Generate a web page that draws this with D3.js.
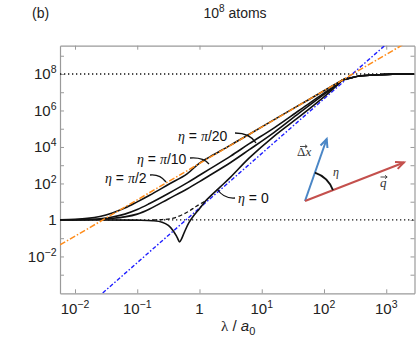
<!DOCTYPE html>
<html><head><meta charset="utf-8">
<script src="https://cdn.jsdelivr.net/npm/d3@7"></script>
<style>body{margin:0;background:#fff}svg{display:block}</style>
</head><body><svg id="c" width="420" height="344"></svg>
<script>
// ---- data ----
const lambdaGrid = [0.00575, 0.01, 0.0158, 0.0251, 0.0398, 0.0631, 0.1, 0.158, 0.316, 0.631, 1, 1.469, 3.162, 6.31, 15.85, 39.8, 100, 158.5, 199.5, 257, 371.5, 794, 1259, 2818];
const etaPiOver2 = [1.028, 1.089, 1.219, 1.549, 2.399, 4.467, 9.772, 22.39, 87.1, 338.8, 1318, 2884, 1.259e4, 5.012e4, 3.162e5, 1.95e6, 1.202e7, 3.02e7, 4.677e7, 5.888e7, 7.762e7, 9.12e7, 9.772e7, 1e8];
const etaPiOver10 = [1.009, 1.028, 1.069, 1.169, 1.445, 2.089, 3.715, 7.943, 28.18, 107.2, 281.8, 631, 3162, 1.514e4, 1.122e5, 1e6, 8.913e6, 2.512e7, 4.677e7, 5.888e7, 7.762e7, 9.12e7, 9.772e7, 1e8];
const etaPiOver20 = [1.005, 1.014, 1.035, 1.096, 1.23, 1.479, 2.089, 3.981, 14.13, 50.12, 125.9, 281.8, 1413, 7079, 6.31e4, 7.079e5, 7.586e6, 2.399e7, 4.677e7, 5.888e7, 7.762e7, 9.12e7, 9.772e7, 1e8];
const etaZeroLambda = [0.00575, 0.1, 0.178, 0.251, 0.316, 0.38, 0.437, 0.479, 0.513, 0.575, 0.676, 0.794, 1, 1.259, 2.138, 3.162, 6.31, 15.85, 39.8, 100, 158.5, 199.5, 257, 371.5, 794, 1259, 2818];
const etaZero = [1, 0.977, 0.912, 0.759, 0.501, 0.251, 0.112, 0.0631, 0.0891, 0.224, 0.708, 1.585, 4.169, 11.22, 63.1, 223.9, 2512, 3.981e4, 4.467e5, 5.623e6, 2.239e7, 4.677e7, 5.888e7, 7.762e7, 9.12e7, 9.772e7, 1e8];
const dashedLambda = [0.178, 0.251, 0.38, 0.631, 0.891, 1.259];
const dashedValues = [1, 1.047, 1.259, 2.63, 5.62, 11.22];
const orangeLambda = [0.00574, 1820];
const orangeValues = [0.0427, 3.9e9];
const blueLambda = [0.0279, 970];
const blueValues = [1e-4, 3.9e9];
const refLevels = [1, 1e8];
const xTickValues = [1e-2, 1e-1, 1, 1e1, 1e2, 1e3];
const xTickExps = [-2, -1, 0, 1, 2, 3];
const yTickValues = [1e-3, 1e-2, 1e-1, 1, 1e1, 1e2, 1e3, 1e4, 1e5, 1e6, 1e7, 1e8, 1e9];
const yLabelExps = [-2, 0, 2, 4, 6, 8];
const curveLabels = ["π/2", "π/10", "π/20", "0"];

// ---- layout ----
const L = 60, R = 414.5, T = 45.7, B = 293.3;
const svg = d3.select("#c");
const x = d3.scaleLog().domain([Math.pow(10, -2.241), Math.pow(10, 3.454)]).range([L, R]);
const y = d3.scaleLog().domain([Math.pow(10, -4.02), Math.pow(10, 9.55)]).range([B, T]);
const AX = "#9a9a9a";
const SANS = "'Liberation Sans', Arial, sans-serif";
const SERIF = "'Liberation Serif', 'DejaVu Serif', serif";

svg.append("defs").append("clipPath").attr("id", "clip")
  .append("rect").attr("x", L).attr("y", T).attr("width", R - L).attr("height", B - T);

function styleAxis(g) {
  g.selectAll("path").attr("stroke", AX).attr("stroke-width", 1.2);
  g.selectAll("line").attr("stroke", AX).attr("stroke-width", 1);
  g.selectAll("text").remove();
}
svg.append("g").attr("transform", `translate(0,${B})`)
  .call(d3.axisBottom(x).tickValues(xTickValues).tickSizeInner(-4).tickSizeOuter(0)).call(styleAxis);
svg.append("g").attr("transform", `translate(0,${T})`)
  .call(d3.axisTop(x).tickValues(xTickValues).tickSizeInner(-4).tickSizeOuter(0)).call(styleAxis);
svg.append("g").attr("transform", `translate(${L},0)`)
  .call(d3.axisLeft(y).tickValues(yTickValues).tickSizeInner(-4).tickSizeOuter(0)).call(styleAxis);
svg.append("g").attr("transform", `translate(${R},0)`)
  .call(d3.axisRight(y).tickValues(yTickValues).tickSizeInner(-4).tickSizeOuter(0)).call(styleAxis);

function sci(t, e, fs) {
  if (e === 0) { t.text("1"); return; }
  t.append("tspan").text("10");
  t.append("tspan").attr("dy", -fs * 0.42).attr("font-size", fs * 0.7)
    .text(e < 0 ? "\u2212" + (-e) : String(e));
}
xTickExps.forEach(e => {
  const t = svg.append("text").attr("x", x(Math.pow(10, e))).attr("y", 314)
    .attr("text-anchor", "middle").attr("font-family", SANS).attr("font-size", 15).attr("fill", "#222");
  sci(t, e, 15);
});
yLabelExps.forEach(e => {
  const t = svg.append("text").attr("x", 56.5).attr("y", y(Math.pow(10, e)) + 5.5)
    .attr("text-anchor", "end").attr("font-family", SANS).attr("font-size", 15).attr("fill", "#222");
  sci(t, e, 15);
});

// titles
svg.append("text").attr("x", 32).attr("y", 18).attr("font-family", SANS).attr("font-size", 14).attr("fill", "#222").text("(b)");
{
  const t = svg.append("text").attr("x", 235).attr("y", 18).attr("text-anchor", "middle")
    .attr("font-family", SANS).attr("font-size", 14).attr("fill", "#222");
  t.append("tspan").text("10");
  t.append("tspan").attr("dy", -6).attr("font-size", 10).text("8");
  t.append("tspan").attr("dy", 6).text(" atoms");
}
{
  const t = svg.append("text").attr("x", 221).attr("y", 331).attr("font-size", 15).attr("fill", "#222");
  t.append("tspan").attr("font-family", SERIF).text("λ");
  t.append("tspan").attr("font-family", SANS).text(" / ");
  t.append("tspan").attr("font-family", SANS).attr("font-style", "italic").text("a");
  t.append("tspan").attr("font-family", SANS).attr("font-size", 11).attr("dy", 4).text("0");
}

// plot contents
const gp = svg.append("g").attr("clip-path", "url(#clip)");
const line = d3.line().x(d => x(d[0])).y(d => y(d[1])).curve(d3.curveCatmullRom.alpha(0.5));
const straight = d3.line().x(d => x(d[0])).y(d => y(d[1]));
const zip = (a, b) => a.map((v, i) => [v, b[i]]);

refLevels.forEach(v => {
  gp.append("line").attr("x1", L).attr("x2", R).attr("y1", y(v)).attr("y2", y(v))
    .attr("stroke", "#111").attr("stroke-width", 1.3).attr("stroke-dasharray", "1.3,2.7");
});

gp.append("path").attr("d", straight(zip(blueLambda, blueValues)))
  .attr("fill", "none").attr("stroke", "#1f1fff").attr("stroke-width", 1.4).attr("stroke-dasharray", "4,2,1.5,2");
gp.append("path").attr("d", line(zip(dashedLambda, dashedValues)))
  .attr("fill", "none").attr("stroke", "#111").attr("stroke-width", 1.3).attr("stroke-dasharray", "4,2.5");
[etaPiOver20, etaPiOver10, etaPiOver2].forEach(v => {
  gp.append("path").attr("d", line(zip(lambdaGrid, v)))
    .attr("fill", "none").attr("stroke", "#111").attr("stroke-width", 1.6);
});
gp.append("path").attr("d", line(zip(etaZeroLambda, etaZero)))
  .attr("fill", "none").attr("stroke", "#111").attr("stroke-width", 1.6);
gp.append("path").attr("d", straight(zip(orangeLambda, orangeValues)))
  .attr("fill", "none").attr("stroke", "#ff8c1a").attr("stroke-width", 1.5).attr("stroke-dasharray", "6,2,1.5,2");

// curve labels with pointers
const labelPos = [[105, 183], [137, 163.5], [178, 140.5], [238, 203]];
const pointerPaths = [
  "M150,175 Q160,174 166,182",
  "M190,158 Q203,157 209,164",
  "M235,133 Q250,133 256,143",
  "M217,189 Q224,199 235,198"
];
curveLabels.forEach((lab, i) => {
  const t = svg.append("text").attr("x", labelPos[i][0]).attr("y", labelPos[i][1])
    .attr("font-size", 14).attr("fill", "#111");
  t.append("tspan").attr("font-family", SERIF).attr("font-style", "italic").text("η");
  t.append("tspan").attr("font-family", SANS).text(" = ");
  if (lab === "0") {
    t.append("tspan").attr("font-family", SANS).text("0");
  } else {
    t.append("tspan").attr("font-family", SERIF).attr("font-style", "italic").text("π");
    t.append("tspan").attr("font-family", SANS).text(lab.slice(1));
  }
  svg.append("path").attr("d", pointerPaths[i]).attr("fill", "none").attr("stroke", "#111").attr("stroke-width", 1.3);
});

// inset vector diagram
const O = [305, 201], tipB = [326.7, 139], tipR = [404, 162.5];
function arrow(tip, col) {
  svg.append("line").attr("x1", O[0]).attr("y1", O[1]).attr("x2", tip[0]).attr("y2", tip[1])
    .attr("stroke", col).attr("stroke-width", 2);
  const ang = Math.atan2(tip[1] - O[1], tip[0] - O[0]);
  const h = 9, a = 0.42;
  const p1 = [tip[0] - h * Math.cos(ang - a), tip[1] - h * Math.sin(ang - a)];
  const p2 = [tip[0] - h * Math.cos(ang + a), tip[1] - h * Math.sin(ang + a)];
  svg.append("path").attr("d", `M${p1}L${tip}L${p2}`).attr("fill", "none")
    .attr("stroke", col).attr("stroke-width", 2).attr("stroke-linejoin", "miter");
}
arrow(tipB, "#4a86c6");
arrow(tipR, "#c4504d");
{
  const r = 30;
  const a1 = Math.atan2(tipB[1] - O[1], tipB[0] - O[0]);
  const a2 = Math.atan2(tipR[1] - O[1], tipR[0] - O[0]);
  svg.append("path").attr("d", `M${O[0] + r * Math.cos(a1)},${O[1] + r * Math.sin(a1)} A${r},${r} 0 0 1 ${O[0] + r * Math.cos(a2)},${O[1] + r * Math.sin(a2)}`)
    .attr("fill", "none").attr("stroke", "#111").attr("stroke-width", 1.8);
}
svg.append("text").attr("x", 333).attr("y", 176).attr("font-family", SERIF).attr("font-style", "italic")
  .attr("font-size", 12).attr("fill", "#333").text("η");
{
  const t = svg.append("text").attr("x", 297).attr("y", 156).attr("font-family", SERIF).attr("font-size", 13).attr("fill", "#333");
  t.append("tspan").text("Δ");
  t.append("tspan").attr("font-style", "italic").text("x");
  svg.append("path").attr("d", "M300,146.5 L307,146.5 M305,144.8 L307.2,146.5 L305,148.2").attr("fill", "none").attr("stroke", "#333").attr("stroke-width", 0.9);
  svg.append("text").attr("x", 380).attr("y", 187).attr("font-family", SERIF).attr("font-style", "italic").attr("font-size", 13).attr("fill", "#333").text("q");
  svg.append("path").attr("d", "M380.5,177 L387,177 M385,175.3 L387.2,177 L385,178.7").attr("fill", "none").attr("stroke", "#333").attr("stroke-width", 0.9);
}
</script></body></html>
